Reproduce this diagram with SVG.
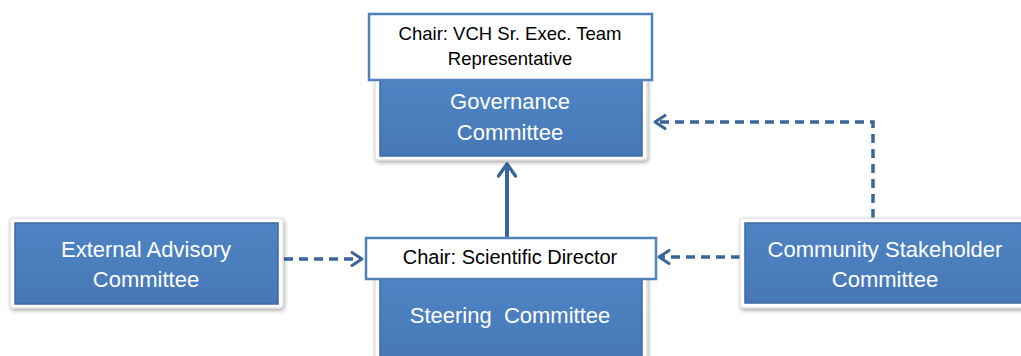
<svg xmlns="http://www.w3.org/2000/svg" width="1021" height="356" viewBox="0 0 1021 356">
<defs>
<linearGradient id="blueGrad" x1="0" y1="0" x2="0" y2="1">
<stop offset="0" stop-color="#4e83c3"/>
<stop offset="0.6" stop-color="#4a7dbc"/>
<stop offset="1" stop-color="#4778b6"/>
</linearGradient>
<filter id="shadow" x="-10%" y="-20%" width="120%" height="140%">
<feGaussianBlur in="SourceAlpha" stdDeviation="2"/>
<feOffset dx="1" dy="2" result="b"/>
<feComponentTransfer><feFuncA type="linear" slope="0.35"/></feComponentTransfer>
<feMerge><feMergeNode/><feMergeNode in="SourceGraphic"/></feMerge>
</filter>
<marker id="chev" viewBox="0 0 14 16" refX="12" refY="8" markerWidth="14" markerHeight="16" markerUnits="userSpaceOnUse" orient="auto">
<path d="M2,1.5 L12,8 L2,14.5" fill="none" stroke="#3a6699" stroke-width="3" stroke-linecap="round" stroke-linejoin="round"/>
</marker>
<marker id="chevBig" viewBox="0 0 16 20" refX="14" refY="10" markerWidth="16" markerHeight="20" markerUnits="userSpaceOnUse" orient="auto">
<path d="M2,1.5 L14,10 L2,18.5" fill="none" stroke="#3a6699" stroke-width="3.4" stroke-linecap="round" stroke-linejoin="round"/>
</marker>
</defs>
<style>
.frame{fill:#ffffff;stroke:#d9d9d9;stroke-width:1;filter:url(#shadow);}
.blue{fill:url(#blueGrad);stroke:#3d6ba3;stroke-width:1.5;}
.label{fill:#ffffff;stroke:#4f81bd;stroke-width:2.5;}
.wt{font-family:"Liberation Sans",Arial,sans-serif;font-size:22px;fill:#ffffff;text-anchor:middle;}
.bt{font-family:"Liberation Sans",Arial,sans-serif;font-size:18.5px;fill:#000000;text-anchor:middle;}
.dash{fill:none;stroke:#3a6699;stroke-width:3.5;stroke-dasharray:9,6;}
.solid{fill:none;stroke:#3a6699;stroke-width:4;}
</style>
<rect width="1021" height="356" fill="#ffffff"/>
<g id="connectors">
<line class="solid" x1="507" y1="237" x2="507" y2="164" marker-end="url(#chevBig)"/>
<line class="dash" x1="284" y1="259" x2="362" y2="259" marker-end="url(#chev)"/>
<line class="dash" x1="740" y1="257" x2="659" y2="257" marker-end="url(#chev)"/>
<polyline class="dash" points="873,218 873,122 655,122" marker-end="url(#chev)"/>
</g>
<g id="governance">
<rect class="frame" x="375" y="72" width="272" height="88" rx="3"/>
<rect class="blue" x="380" y="80" width="262" height="76"/>
<text class="wt" x="510" y="109">Governance</text>
<text class="wt" x="510" y="140">Committee</text>
</g>
<g id="governance-chair">
<rect class="label" x="369" y="14" width="283" height="66"/>
<text class="bt" x="510" y="40">Chair: VCH Sr. Exec. Team</text>
<text class="bt" x="510" y="65">Representative</text>
</g>
<g id="external">
<rect class="frame" x="10" y="218" width="273" height="90" rx="3"/>
<rect class="blue" x="15" y="223" width="263" height="81"/>
<text class="wt" x="146" y="257">External Advisory</text>
<text class="wt" x="146" y="287">Committee</text>
</g>
<g id="steering">
<rect class="frame" x="375" y="272" width="272" height="100" rx="3"/>
<rect class="blue" x="380" y="279" width="262" height="85"/>
<text class="wt" x="510" y="323" xml:space="preserve">Steering  Committee</text>
</g>
<g id="steering-chair">
<rect class="label" x="366" y="238" width="290" height="41"/>
<text class="bt" x="510" y="264" style="font-size:20px">Chair: Scientific Director</text>
</g>
<g id="community">
<rect class="frame" x="740" y="218" width="300" height="90" rx="3"/>
<rect class="blue" x="745" y="223" width="290" height="80"/>
<text class="wt" x="885" y="257">Community Stakeholder</text>
<text class="wt" x="885" y="287">Committee</text>
</g>
</svg>
